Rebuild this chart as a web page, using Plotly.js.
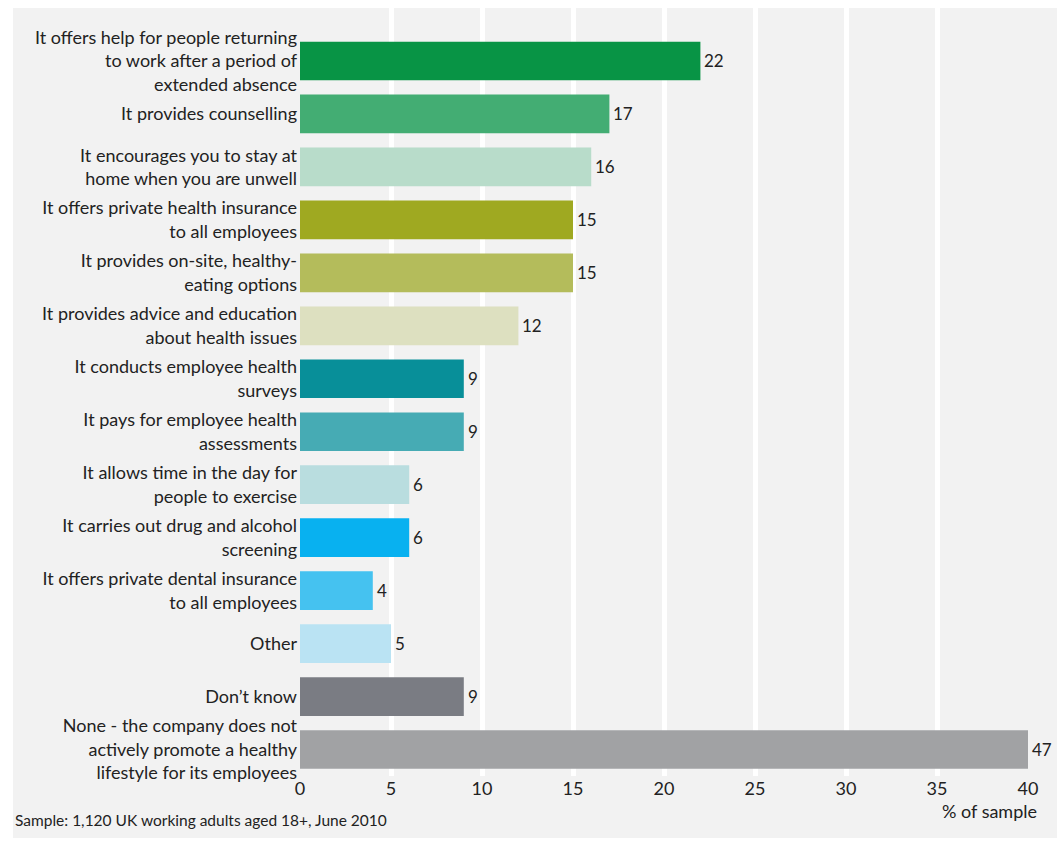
<!DOCTYPE html>
<html><head><meta charset="utf-8">
<script src="https://cdn.plot.ly/plotly-3.0.1.min.js"></script>
<style>body{margin:0;background:#fff}#chart{width:1064px;height:841px}</style>
</head><body><div id="chart"></div>
<script>
const categories = [
  "It offers help for people returning<br>to work after a period of<br>extended absence",
  "It provides counselling",
  "It encourages you to stay at<br>home when you are unwell",
  "It offers private health insurance<br>to all employees",
  "It provides on-site, healthy-<br>eating options",
  "It provides advice and education<br>about health issues",
  "It conducts employee health<br>surveys",
  "It pays for employee health<br>assessments",
  "It allows time in the day for<br>people to exercise",
  "It carries out drug and alcohol<br>screening",
  "It offers private dental insurance<br>to all employees",
  "Other",
  "Don\u2019t know",
  "None - the company does not<br>actively promote a healthy<br>lifestyle for its employees"
];
const values = [22, 17, 16, 15, 15, 12, 9, 9, 6, 6, 4, 5, 9, 47];
const barColors = ["#00913F","#3DAA6E","#B6DBC8","#9CA61A","#B2BA56","#DCDFBE",
  "#008B96","#40A8B2","#B7DCDE","#00AEEF","#3FC0F0","#B8E2F3","#76787F","#9E9FA1"];
const xTicks = [0, 5, 10, 15, 20, 25, 30, 35, 40];
const xMax = 40;

const W = 1064, H = 841;
const m = {l: 300, r: 36, t: 8, b: 65};
const pw = W - m.l - m.r, ph = H - m.t - m.b;
const px = p => (p - m.l) / pw;
const py = p => (H - m.b - p) / ph;

const font = "Lato, sans-serif";

const bars = {
  type: "bar", orientation: "h",
  y: categories, x: values,
  marker: {color: barColors, opacity: 0.97},
  width: 0.73, hoverinfo: "skip", cliponaxis: true
};

const valueLabels = values.map((v, i) => ({
  xref: "x", yref: "y", x: Math.min(v, xMax), y: categories[i],
  xanchor: "left", yanchor: "middle", xshift: 2,
  text: String(v), showarrow: false,
  font: {family: font, size: 17, color: "#222"}
}));

const layout = {
  width: W, height: H,
  margin: m,
  paper_bgcolor: "#ffffff",
  plot_bgcolor: "rgba(0,0,0,0)",
  showlegend: false,
  font: {family: font, size: 18, color: "#222"},
  xaxis: {
    range: [0, xMax], tickvals: xTicks, ticktext: xTicks.map(String),
    showgrid: true, gridcolor: "#ffffff", gridwidth: 5,
    zeroline: true, zerolinecolor: "rgba(0,0,0,0)", zerolinewidth: 1,
    showline: false, ticks: "", fixedrange: true,
    tickfont: {family: font, size: 18, color: "#222"}
  },
  yaxis: {
    type: "category", range: [13.5, -1],
    showgrid: false, zeroline: false, showline: false, ticks: "",
    ticklabelstandoff: 2,
    tickfont: {family: font, size: 18, color: "#222"}
  },
  shapes: [{
    type: "rect", xref: "paper", yref: "paper", layer: "below",
    x0: px(13), x1: px(1057), y0: py(838), y1: py(8),
    fillcolor: "#f2f2f2", line: {width: 0}
  }],
  annotations: valueLabels.concat([
    {xref: "paper", yref: "paper", x: px(1039), y: py(811), xanchor: "right", yanchor: "middle",
     text: "% of sample", showarrow: false, font: {family: font, size: 18, color: "#222"}},
    {xref: "paper", yref: "paper", x: px(13), y: py(820), xanchor: "left", yanchor: "middle",
     text: "Sample: 1,120 UK working adults aged 18+, June 2010", showarrow: false,
     font: {family: font, size: 15.5, color: "#222"}}
  ])
};
Plotly.newPlot("chart", [bars], layout, {staticPlot: true});
</script></body></html>
